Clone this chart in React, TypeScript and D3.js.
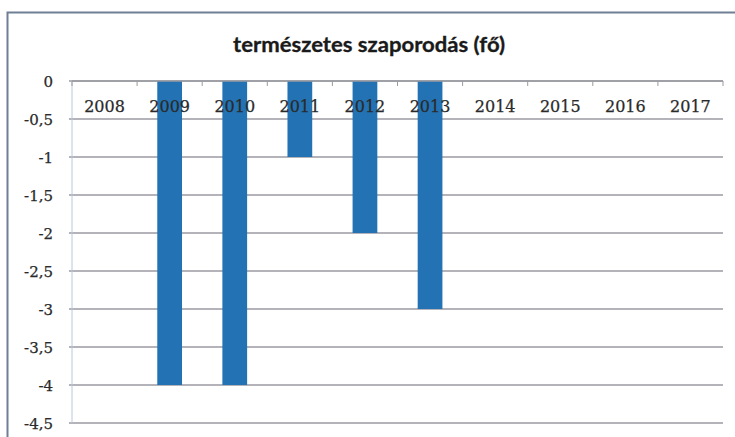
import React from "react";
import * as d3 from "d3";

const title = "természetes szaporodás (fő)";
const years = ["2008", "2009", "2010", "2011", "2012", "2013", "2014", "2015", "2016", "2017"];
const values = [0, -4, -4, -1, -2, -3, 0, 0, 0, 0];
const yTicks = [0, -0.5, -1, -1.5, -2, -2.5, -3, -3.5, -4, -4.5];

const W = 735;
const H = 437;
const plot = { left: 72, right: 723, top: 81, bottom: 423 };

export default function App() {
  const x = d3.scaleBand<string>().domain(years).range([plot.left, plot.right]).paddingInner(0).paddingOuter(0);
  const y = d3.scaleLinear().domain([0, -4.5]).range([plot.top, plot.bottom]);
  const barW = x.bandwidth() * 0.38;
  const fmt = (v: number) => String(v).replace(".", ",");
  const serif = "'DejaVu Serif', 'Liberation Serif', serif";

  return (
    <div style={{ position: "absolute", left: 0, top: 0 }}>
      <svg width={W} height={H} style={{ display: "block", background: "#fff" }}>
        <rect x={0} y={0} width={W} height={H} fill="#fff" />
        {/* chart border */}
        <path d={`M7.5,${H} L7.5,12.5 L${W},12.5`} fill="none" stroke="#6f7f95" strokeWidth={2} />
        <text x={369} y={52} textAnchor="middle" fontFamily="Lato, 'Open Sans', sans-serif" fontWeight={700} fontSize={20} fill="#1a1a1a" stroke="#1a1a1a" strokeWidth={0.3} textLength={272} lengthAdjust="spacingAndGlyphs">
          {title}
        </text>
        {/* gridlines */}
        {yTicks.map((t) => (
          <line key={"g" + t} x1={plot.left - 3} x2={plot.right} y1={y(t)} y2={y(t)} stroke="#9a9aa2" strokeWidth={1.3} />
        ))}
        {/* y axis line */}
        <line x1={plot.left} x2={plot.left} y1={plot.top} y2={plot.bottom} stroke="#b8c8dc" strokeWidth={1} />
        {/* bars */}
        {years.map((yr, i) => {
          const v = values[i];
          if (v === 0) return null;
          const cx = (x(yr) as number) + x.bandwidth() / 2;
          return (
            <rect key={yr} x={cx - barW / 2} y={y(0)} width={barW} height={y(v) - y(0)} fill="#2272b4" />
          );
        })}
        {/* x axis line on top */}
        <line x1={plot.left} x2={plot.right} y1={plot.top} y2={plot.top} stroke="#9a9aa2" strokeWidth={1.3} />
        {/* category ticks */}
        {years.map((yr) => (
          <line key={"t" + yr} x1={(x(yr) as number)} x2={(x(yr) as number)} y1={plot.top} y2={plot.top + 5} stroke="#9a9aa2" strokeWidth={1} />
        ))}
        <line x1={plot.right} x2={plot.right} y1={plot.top} y2={plot.top + 5} stroke="#9a9aa2" strokeWidth={1} />
        {/* category labels */}
        {years.map((yr) => (
          <text key={"l" + yr} x={(x(yr) as number) + x.bandwidth() / 2} y={112} textAnchor="middle" fontFamily={serif} fontSize={16} fill="#2a2a2a" stroke="#2a2a2a" strokeWidth={0.25}>
            {yr}
          </text>
        ))}
        {/* y labels */}
        {yTicks.map((t) => (
          <text key={"y" + t} x={53} y={y(t) + 6} textAnchor="end" fontFamily={serif} fontSize={15} fill="#2a2a2a" stroke="#2a2a2a" strokeWidth={0.25}>
            {fmt(t)}
          </text>
        ))}
      </svg>
    </div>
  );
}
